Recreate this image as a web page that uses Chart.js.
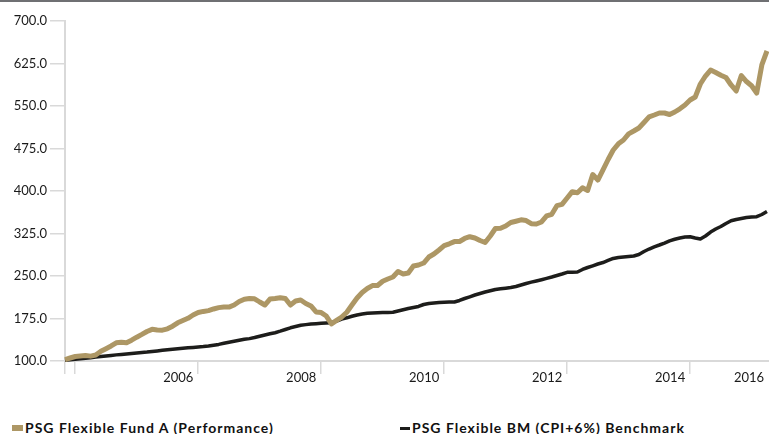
<!DOCTYPE html>
<html>
<head>
<meta charset="utf-8">
<script src="https://cdn.jsdelivr.net/npm/chart.js@4"></script>
<style>
  body { margin: 0; background: #fff; width: 769px; height: 434px; overflow: hidden; position: relative; font-family: Lato, sans-serif; }
  #topbar { position: absolute; left: 0; top: 0; width: 769px; height: 2px; background: #6f7073; z-index: 5; }
  #wrap { position: absolute; left: 0; top: 0; width: 769px; height: 395px; }
  .leg { position: absolute; top: 419px; font: bold 14px Lato, sans-serif; letter-spacing: 1px; color: #111; white-space: nowrap; line-height: 18px; }
  .sw { display: inline-block; vertical-align: middle; margin-right: 2px; position: relative; top: -1px; }
</style>
</head>
<body>
<div id="topbar"></div>
<div id="wrap"><canvas id="chart" width="769" height="395"></canvas></div>
<div class="leg" style="left:12px"><span class="sw" style="width:11px;height:6px;background:#ad9765"></span>PSG Flexible Fund A (Performance)</div>
<div class="leg" style="left:400px"><span class="sw" style="width:10px;height:3px;background:#1d1d1b"></span>PSG Flexible BM (CPI+6%) Benchmark</div>
<script>
// monthly points, index 0..137
const months = Array.from({ length: 138 }, (_, i) => i);

const fundA = [
  102.6, 105.3, 107.9, 108.8, 109.7, 108.6, 110.6, 117.1, 121.7, 126.5,
  132.1, 133.2, 132.1, 136.7, 142.0, 146.9, 152.1, 155.9, 154.7, 154.4,
  156.8, 161.4, 167.4, 171.5, 175.4, 181.2, 185.6, 187.5, 188.9, 191.8,
  194.2, 195.1, 195.1, 198.8, 205.0, 209.1, 210.3, 209.8, 204.1, 198.8,
  209.4, 210.3, 211.7, 210.3, 198.8, 205.9, 207.6, 201.5, 197.1, 186.5,
  185.4, 179.4, 165.6, 171.8, 177.6, 186.1, 198.8, 211.2, 220.9, 227.9,
  233.1, 233.2, 240.8, 244.7, 248.2, 257.9, 253.5, 255.3, 267.6, 269.4,
  272.9, 283.5, 288.8, 295.9, 303.5, 306.8, 310.7, 310.9, 316.2, 319.3,
  317.1, 312.6, 309.1, 320.6, 333.8, 334.3, 338.2, 344.4, 346.7, 349.2,
  347.9, 342.3, 341.8, 345.3, 355.9, 358.9, 374.1, 376.5, 387.6, 398.8,
  397.0, 405.6, 400.9, 429.1, 419.4, 437.4, 455.6, 472.4, 483.3, 490.0,
  500.9, 505.9, 511.2, 520.9, 530.9, 534.1, 537.6, 537.6, 535.0, 539.4,
  545.1, 551.8, 560.6, 565.9, 588.8, 602.9, 613.5, 609.1, 604.3, 600.3,
  587.1, 576.5, 603.8, 593.2, 585.8, 572.9, 622.4, 647.1
];

const benchmark = [
  101.2, 102.1, 103.0, 103.9, 104.8, 105.8, 106.9, 107.9, 109.0, 109.9,
  110.8, 111.6, 112.5, 113.4, 114.1, 115.0, 115.7, 116.8, 117.8, 118.9,
  119.9, 120.8, 121.7, 122.6, 123.3, 124.0, 124.7, 125.4, 126.5, 127.9,
  129.3, 131.2, 133.2, 134.9, 136.7, 138.3, 139.5, 141.5, 143.8, 145.9,
  148.0, 149.9, 152.6, 155.6, 158.6, 160.9, 163.0, 164.2, 165.3, 165.8,
  166.5, 167.1, 167.6, 170.6, 174.1, 176.2, 178.9, 181.2, 182.9, 184.2,
  184.7, 185.1, 185.4, 185.8, 186.1, 188.2, 190.5, 192.6, 194.4, 196.2,
  199.7, 201.5, 202.4, 203.2, 203.8, 204.1, 204.1, 206.8, 210.3, 213.3,
  216.5, 219.1, 221.8, 223.9, 226.2, 227.4, 228.5, 229.7, 231.5, 234.1,
  236.8, 239.1, 241.2, 243.5, 245.9, 248.2, 250.9, 253.5, 256.5, 256.7,
  257.1, 261.5, 265.0, 268.0, 271.2, 273.8, 277.4, 280.9, 282.6, 283.5,
  284.4, 285.3, 287.9, 293.2, 297.6, 301.5, 304.7, 308.2, 312.1, 314.9,
  317.1, 318.8, 319.2, 317.1, 315.3, 320.6, 327.6, 332.9, 337.3, 342.6,
  347.4, 349.7, 351.5, 353.2, 354.1, 354.6, 358.5, 363.8
];

const yTicks = [100, 175, 250, 325, 400, 475, 550, 625, 700];
const tickMonths = [0, 2, 26, 50, 74, 98, 122, 137.4];
const tickLabels = ['', '', '2006', '2008', '2010', '2012', '2014', '2016'];

const gold = '#ad9765';
const dark = '#1d1d1b';
const axisGrey = '#d9d9d9';

function draw() {
  new Chart(document.getElementById('chart'), {
    type: 'line',
    data: {
      datasets: [{
        label: 'PSG Flexible Fund A (Performance)',
        data: fundA.map((v, i) => ({ x: months[i], y: v })),
        borderColor: gold,
        borderWidth: 5,
        pointRadius: 0,
        tension: 0,
        borderJoinStyle: 'round',
        clip: false
      }, {
        label: 'PSG Flexible BM (CPI+6%) Benchmark',
        data: benchmark.map((v, i) => ({ x: months[i], y: v })),
        borderColor: dark,
        borderWidth: 3.5,
        pointRadius: 0,
        tension: 0,
        borderJoinStyle: 'round',
        clip: false
      }]
    },
    options: {
      responsive: false,
      animation: false,
      devicePixelRatio: 1,
      layout: { padding: { top: 21, left: 0, right: 0, bottom: 0 } },
      plugins: { legend: { display: false }, tooltip: { enabled: false } },
      scales: {
        x: {
          type: 'linear',
          min: 0,
          max: 137.4,
          afterBuildTicks: s => { s.ticks = tickMonths.map(v => ({ value: v })); },
          afterFit: s => { s.height = 34; s.paddingLeft = 0; s.paddingRight = 0; },
          grid: {
            drawOnChartArea: false,
            tickLength: 13,
            lineWidth: 1.5,
            color: c => c.index === tickMonths.length - 1 ? 'rgba(0,0,0,0)' : axisGrey
          },
          border: { display: true, color: axisGrey, width: 2 },
          ticks: {
            autoSkip: false,
            maxRotation: 0,
            labelOffset: -20,
            padding: -4,
            color: '#1a1a1a',
            font: { family: 'Lato', size: 13 },
            callback: (v, i) => tickLabels[i]
          }
        },
        y: {
          min: 100,
          max: 700,
          afterBuildTicks: s => { s.ticks = yTicks.map(v => ({ value: v })); },
          afterFit: s => { s.width = 65; },
          grid: { drawOnChartArea: false, tickLength: 15, lineWidth: 1.5, color: axisGrey },
          border: { display: true, color: axisGrey, width: 2 },
          ticks: {
            padding: 3,
            color: '#1a1a1a',
            font: { family: 'Lato', size: 13 },
            callback: v => v.toFixed(1)
          }
        }
      }
    }
  });
}

document.fonts.load('13px Lato').then(draw, draw);
</script>
</body>
</html>
